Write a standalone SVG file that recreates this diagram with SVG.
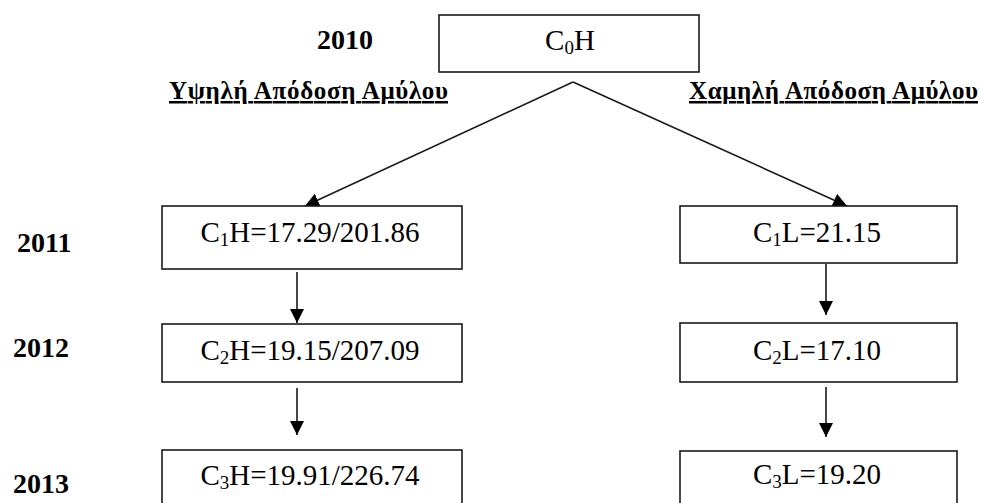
<svg xmlns="http://www.w3.org/2000/svg" width="981" height="503" viewBox="0 0 981 503">
  <style>
    .box { fill: #ffffff; stroke: #1a1a1a; stroke-width: 1.6; }
    .val { font-family: "Liberation Serif", "Times New Roman", serif; font-size: 29px; fill: #000; text-anchor: middle; }
    .sub { font-size: 19px; }
    .year { font-family: "Liberation Serif", "Times New Roman", serif; font-size: 28px; font-weight: bold; fill: #000; }
    .head { font-family: "Liberation Serif", "Times New Roman", serif; font-size: 25px; font-weight: bold; fill: #000; text-decoration: underline; }
    .conn { stroke: #1a1a1a; stroke-width: 1.6; fill: none; marker-end: url(#arrow); }
  </style>
  <defs>
    <marker id="arrow" markerUnits="userSpaceOnUse" markerWidth="14" markerHeight="16" viewBox="0 0 14 16" refX="14" refY="7" orient="auto">
      <path d="M0,0 L14,7 L0,14 Z" fill="#000"/>
    </marker>
  </defs>
  <rect width="981" height="503" fill="#ffffff"/>

  <g id="labels">
    <text class="year" x="317" y="49">2010</text>
    <text class="year" x="17" y="252">2011</text>
    <text class="year" x="13" y="357">2012</text>
    <text class="year" x="13" y="493">2013</text>
    <text class="head" x="169" y="99" textLength="279" lengthAdjust="spacing">Υψηλή Απόδοση Αμύλου</text>
    <text class="head" x="689" y="99" textLength="289" lengthAdjust="spacing">Χαμηλή Απόδοση Αμύλου</text>
  </g>

  <g id="connectors">
    <line class="conn" x1="573" y1="82" x2="305" y2="206"/>
    <line class="conn" x1="573" y1="82" x2="847" y2="206"/>
    <line class="conn" x1="297" y1="272" x2="297" y2="323"/>
    <line class="conn" x1="297" y1="388" x2="297" y2="435"/>
    <line class="conn" x1="826" y1="264" x2="826" y2="315"/>
    <line class="conn" x1="826" y1="387" x2="826" y2="437"/>
  </g>

  <g id="C0H">
    <rect class="box" x="439" y="15" width="260" height="57"/>
    <text class="val" x="570" y="50">C<tspan class="sub" dy="4">0</tspan><tspan dy="-4">H</tspan></text>
  </g>
  <g id="C1H">
    <rect class="box" x="162" y="206" width="300" height="63"/>
    <text class="val" x="310" y="242">C<tspan class="sub" dy="4">1</tspan><tspan dy="-4">H=17.29/201.86</tspan></text>
  </g>
  <g id="C2H">
    <rect class="box" x="162" y="324" width="300" height="58"/>
    <text class="val" x="310" y="360">C<tspan class="sub" dy="4">2</tspan><tspan dy="-4">H=19.15/207.09</tspan></text>
  </g>
  <g id="C3H">
    <rect class="box" x="162" y="450" width="300" height="60"/>
    <text class="val" x="310" y="485">C<tspan class="sub" dy="4">3</tspan><tspan dy="-4">H=19.91/226.74</tspan></text>
  </g>
  <g id="C1L">
    <rect class="box" x="680" y="206" width="277" height="57"/>
    <text class="val" x="817" y="242">C<tspan class="sub" dy="4">1</tspan><tspan dy="-4">L=21.15</tspan></text>
  </g>
  <g id="C2L">
    <rect class="box" x="680" y="323" width="277" height="59"/>
    <text class="val" x="817" y="360">C<tspan class="sub" dy="4">2</tspan><tspan dy="-4">L=17.10</tspan></text>
  </g>
  <g id="C3L">
    <rect class="box" x="680" y="451" width="277" height="60"/>
    <text class="val" x="817" y="484">C<tspan class="sub" dy="4">3</tspan><tspan dy="-4">L=19.20</tspan></text>
  </g>
</svg>
